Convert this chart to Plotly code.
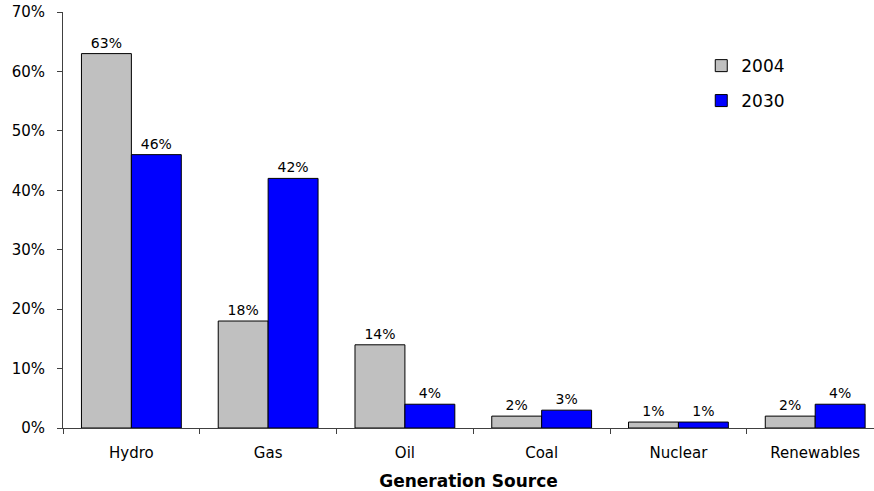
import plotly.graph_objects as go

categories = ["Hydro", "Gas", "Oil", "Coal", "Nuclear", "Renewables"]
share_2004 = [0.63, 0.18, 0.14, 0.02, 0.01, 0.02]
share_2030 = [0.46, 0.42, 0.04, 0.03, 0.01, 0.04]
series_names = ["2004", "2030"]
y_ticks = [0, 0.1, 0.2, 0.3, 0.4, 0.5, 0.6, 0.7]

FONT = "DejaVu Sans"

fig = go.Figure()
fig.add_trace(go.Bar(
    name=series_names[0], x=categories, y=share_2004,
    marker=dict(color="#c0c0c0", line=dict(color="black", width=1)),
    text=[f"{v:.0%}" for v in share_2004], textposition="outside",
    textfont=dict(family=FONT, size=14, color="black"),
    cliponaxis=False, legend="legend", showlegend=True,
))
fig.add_trace(go.Bar(
    name=series_names[1], x=categories, y=share_2030,
    marker=dict(color="#0000ff", line=dict(color="black", width=1)),
    text=[f"{v:.0%}" for v in share_2030], textposition="outside",
    textfont=dict(family=FONT, size=14, color="black"),
    cliponaxis=False, legend="legend2", showlegend=True,
))

fig.update_layout(
    width=874, height=491,
    margin=dict(l=63, r=0, t=12, b=63, autoexpand=False),
    paper_bgcolor="white", plot_bgcolor="white",
    barmode="group", bargap=0.27, bargroupgap=0,
    font=dict(family=FONT, size=15, color="black"),
    showlegend=True,
    xaxis=dict(
        type="category", range=[-0.5, 5.43], automargin=False,
        showline=True, linecolor="#404040", linewidth=1,
        ticks="outside", tickson="boundaries", ticklen=5, tickcolor="#404040",
        ticklabelstandoff=11,
        tickfont=dict(family=FONT, size=15, color="black"),
        title=dict(text="<b>Generation Source</b>", font=dict(family=FONT, size=17, color="black"), standoff=14),
        showgrid=False, zeroline=False,
    ),
    yaxis=dict(
        range=[0, 0.7], tickvals=y_ticks, tickformat=".0%", automargin=False,
        showline=True, linecolor="#404040", linewidth=1,
        ticks="outside", ticklen=5, tickcolor="#404040",
        ticklabelstandoff=9,
        tickfont=dict(family=FONT, size=15, color="black"),
        showgrid=False, zeroline=False,
    ),
    legend=dict(x=0.787, y=0.87, xanchor="left", yanchor="middle",
                font=dict(family=FONT, size=17, color="black"),
                bgcolor="rgba(0,0,0,0)"),
    legend2=dict(x=0.787, y=0.786, xanchor="left", yanchor="middle",
                 font=dict(family=FONT, size=17, color="black"),
                 bgcolor="rgba(0,0,0,0)"),
)

fig.write_html("out.html", config={"displayModeBar": False},
               post_script="document.body.style.margin='0px';")
